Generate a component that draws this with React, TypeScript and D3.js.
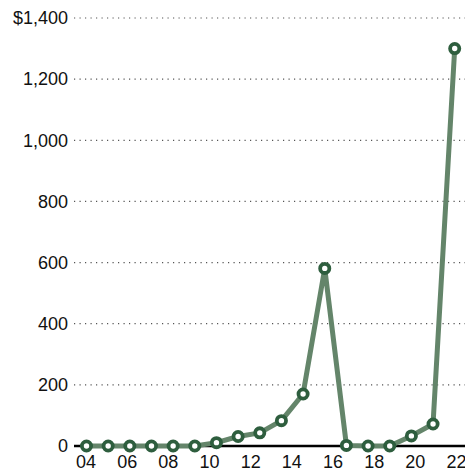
import React from "react";
import * as d3 from "d3";

const years = [2004, 2006, 2008, 2010, 2012, 2014, 2016, 2018, 2020, 2022];
const yearLabels = ["04", "06", "08", "10", "12", "14", "16", "18", "20", "22"];
const yTicks = [0, 200, 400, 600, 800, 1000, 1200, 1400];
const values = [0, 0, 0, 0, 0, 0, 11, 31, 43, 83, 170, 581, 2, 0, 0, 33, 72, 1300];

const W = 465;
const H = 473;

export default function App() {
  const y = d3.scaleLinear().domain([0, 1400]).range([446, 18]);
  const xLab = d3.scaleLinear().domain([2004, 2022]).range([86, 456.5]);
  const xPt = d3.scaleLinear().domain([0, values.length - 1]).range([86.5, 454.7]);
  const line = d3
    .line<number>()
    .x((_, i) => xPt(i))
    .y((d) => y(d));
  const fmt = (v: number) => (v === 1400 ? "$" : "") + d3.format(",")(v);

  return (
    <svg
      width={W}
      height={H}
      style={{ position: "absolute", left: 0, top: 0, background: "#fff" }}
      fontFamily="'Liberation Sans', Arial, sans-serif"
    >
      {yTicks.map((t) => (
        <g key={t}>
          {t > 0 && (
            <line
              x1={74}
              x2={W}
              y1={y(t)}
              y2={y(t)}
              stroke="#555"
              strokeWidth={1.2}
              strokeDasharray="1.2,4.3"
            />
          )}
          <text
            x={68}
            y={y(t)}
            dy="0.35em"
            textAnchor="end"
            fontSize={18}
            fill="#111"
          >
            {fmt(t)}
          </text>
        </g>
      ))}
      <line x1={74} x2={W} y1={y(0)} y2={y(0)} stroke="#000" strokeWidth={2.5} />
      {years.map((yr, i) => (
        <text
          key={yr}
          x={xLab(yr)}
          y={468}
          textAnchor="middle"
          fontSize={18}
          fill="#111"
        >
          {yearLabels[i]}
        </text>
      ))}
      <path
        d={line(values) || ""}
        fill="none"
        stroke="#64856a"
        strokeWidth={5}
        strokeLinejoin="round"
      />
      {values.map((v, i) => (
        <circle
          key={i}
          cx={xPt(i)}
          cy={y(v)}
          r={4.6}
          fill="#fff"
          stroke="#2e5e3e"
          strokeWidth={3.8}
        />
      ))}
    </svg>
  );
}
